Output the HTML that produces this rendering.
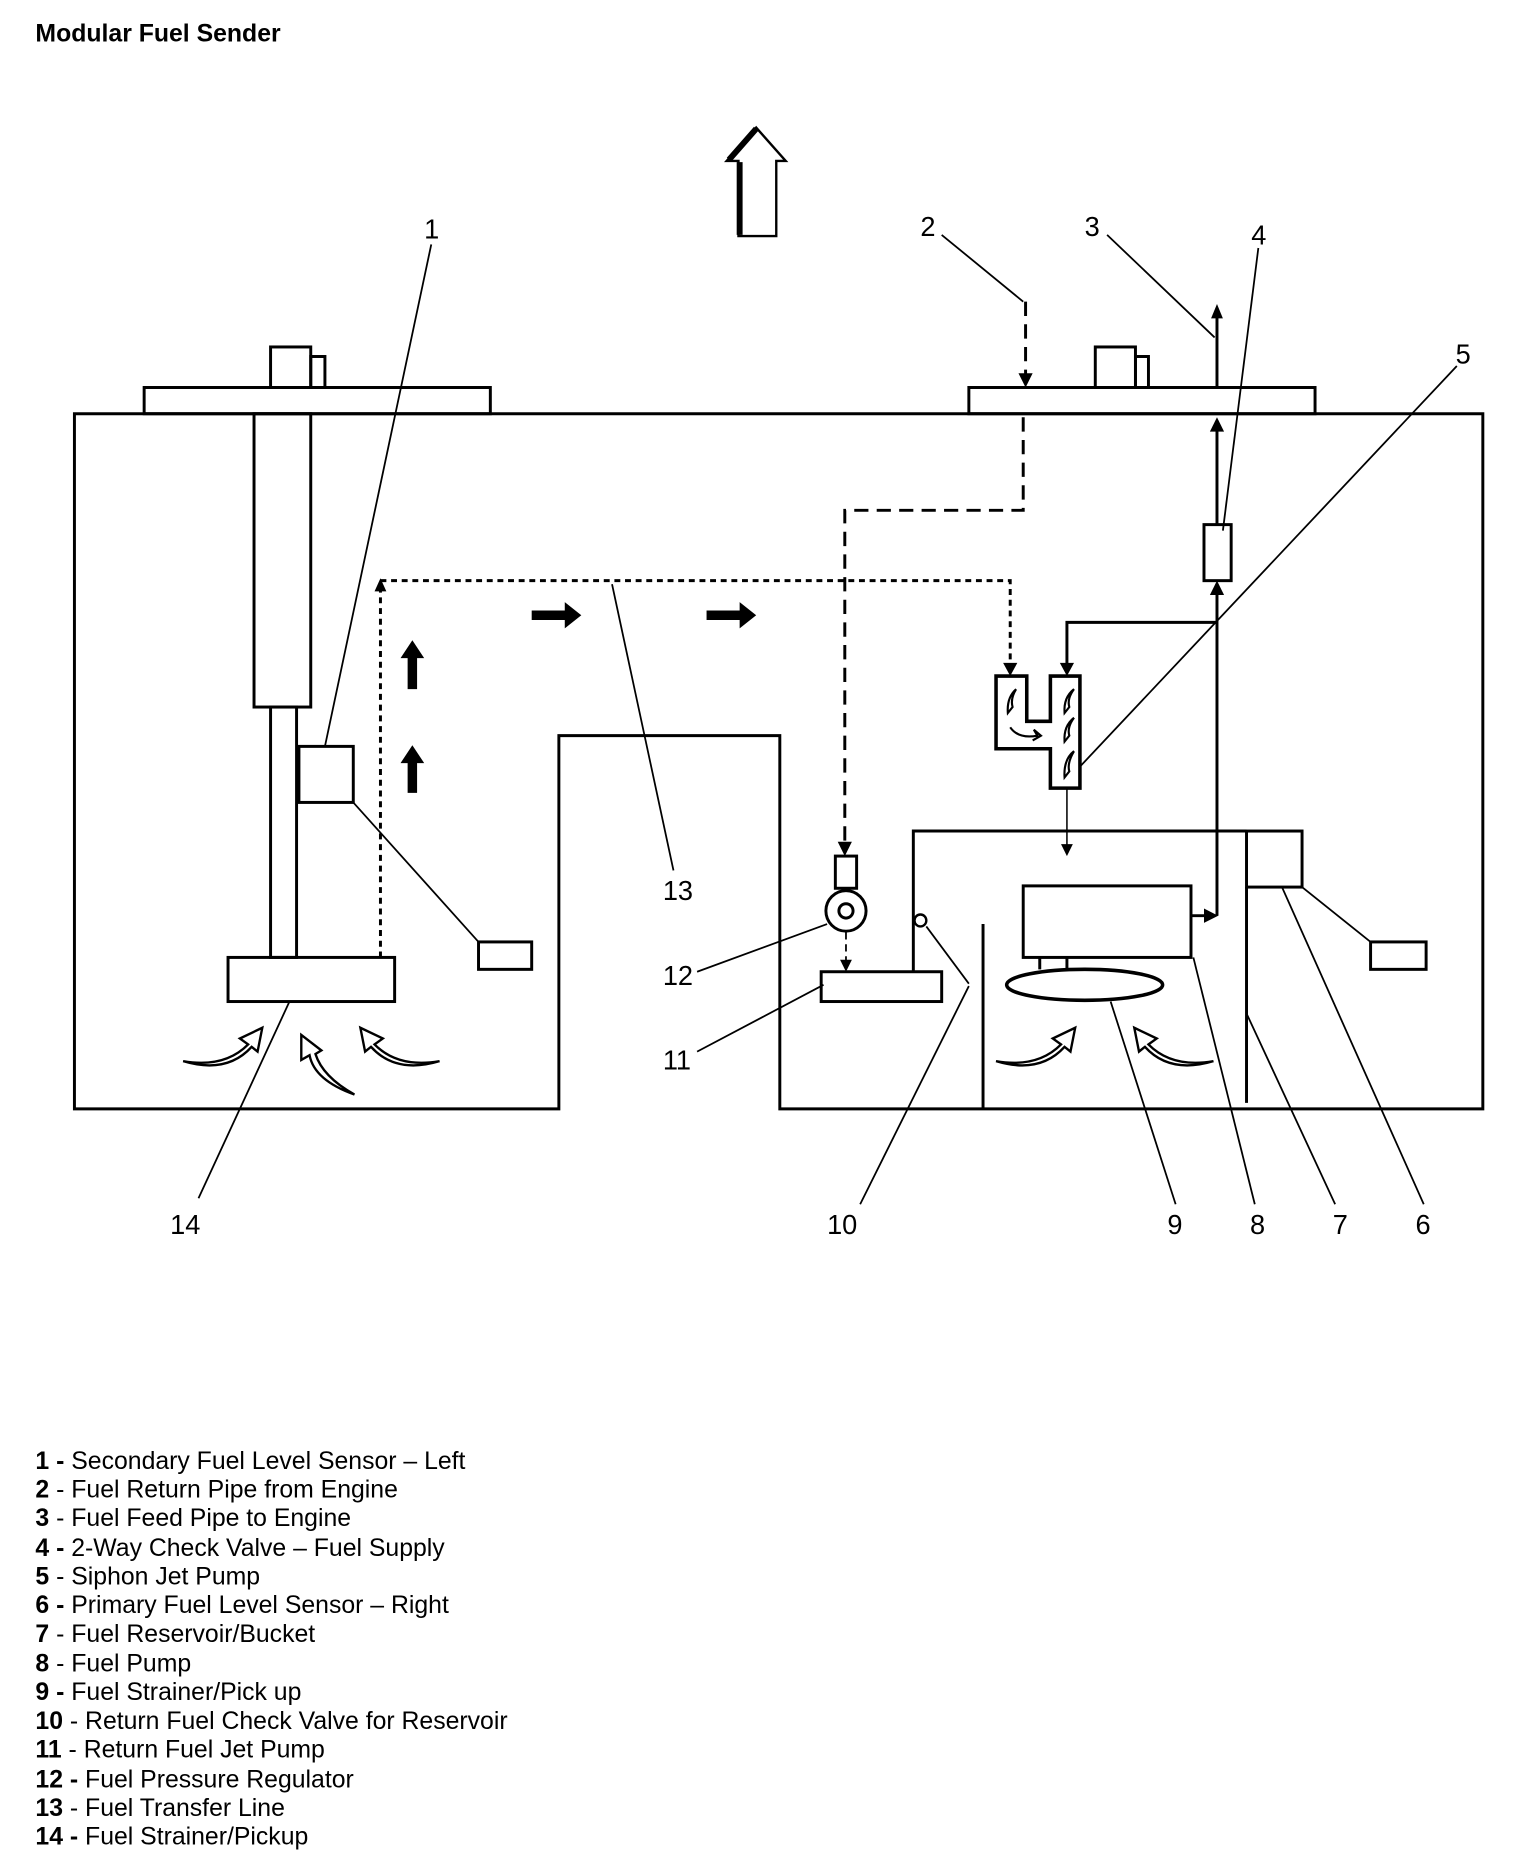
<!DOCTYPE html>
<html><head><meta charset="utf-8"><style>
html,body{margin:0;padding:0;background:#fff;}
svg{display:block;}
text{font-family:"Liberation Sans",Arial,sans-serif;fill:#000;}
</style></head><body>
<svg width="1536" height="1860" viewBox="0 0 1300 1560" preserveAspectRatio="none" xmlns="http://www.w3.org/2000/svg">
<text x="30" y="35" font-size="21" font-weight="bold">Modular Fuel Sender</text>

<!-- up arrow -->
<path d="M640,107 L665,135 L657,135 L657,198 L625,198 L625,135 L615,135 Z" fill="#fff" stroke="#000" stroke-width="2"/>
<path d="M640,108 L617,134 M626,136 L626,197" stroke="#000" stroke-width="5" fill="none"/>

<g fill="none" stroke="#000" stroke-width="2.5">
<path d="M63,347 L1255,347 L1255,930 L660,930 L660,617 L473,617 L473,930 L63,930 Z"/>
<rect x="122" y="325" width="293" height="22"/>
<rect x="229" y="291" width="34" height="34"/>
<rect x="263" y="299" width="12" height="26"/>
<rect x="820" y="325" width="293" height="22"/>
<rect x="927" y="291" width="34" height="34"/>
<rect x="961" y="299" width="11" height="26"/>
<rect x="215" y="347" width="48" height="246"/>
<rect x="229" y="593" width="22" height="210"/>
<rect x="253" y="626" width="46" height="47"/>
<rect x="193" y="803" width="141" height="37"/>
<rect x="405" y="790" width="45" height="23"/>
<rect x="707" y="718" width="18" height="27"/>
<circle cx="716" cy="764" r="17"/>
<circle cx="716" cy="764" r="6"/>
<rect x="695" y="815" width="102" height="25"/>
<path d="M773,815 L773,697 L1055,697"/>
<rect x="1055" y="697" width="47" height="47"/>
<path d="M1055,744 L1055,925"/>
<rect x="1160" y="790" width="47" height="23"/>
<path d="M832,775 L832,930"/>
<rect x="866" y="743" width="142" height="60"/>
<path d="M880,803 L880,813 M903,803 L903,813"/>
<ellipse cx="918" cy="826" rx="66" ry="13" stroke-width="3"/>
<rect x="1019" y="440" width="23" height="47"/>
<path d="M843,567 L869,567 L869,605 L889,605 L889,567 L914,567 L914,661 L889,661 L889,628 L843,628 Z" stroke-width="3"/>
</g>

<g fill="none" stroke="#000" stroke-width="1.5">
<path d="M365,205 L275,626"/>
<path d="M299,673 L405,790"/>
<path d="M518,490 L570,730"/>
<path d="M797,197 L866,253"/>
<path d="M937,197 L1028,283"/>
<path d="M1065,208 L1035,445"/>
<path d="M1233,307 L914,643"/>
<path d="M590,815 L700,775"/>
<path d="M590,882 L697,826"/>
<path d="M728,1010 L820,827"/>
<path d="M784,777 L820,825"/>
<path d="M940,840 L995,1010"/>
<path d="M1010,803 L1062,1010"/>
<path d="M1055,850 L1130,1010"/>
<path d="M1102,744 L1160,790"/>
<path d="M1085,744 L1205,1010"/>
<path d="M245,840 L168,1005"/>
<circle cx="779" cy="772" r="5" stroke-width="2"/>
</g>

<g fill="none" stroke="#000" stroke-width="2.5" stroke-dasharray="5,4">
<path d="M322,803 L322,492"/>
<path d="M322,487 L855,487 L855,562"/>
</g>
<path d="M322,485 L317,496 L327,496 Z" fill="#000"/>
<path d="M855,567 L849,556 L861,556 Z" fill="#000"/>
<g fill="none" stroke="#000" stroke-width="2.5" stroke-dasharray="12,7">
<path d="M868,253 L868,318"/>
<path d="M866,350 L866,428 L715,428 L715,710"/>
<path d="M716,782 L716,808" stroke-width="1.5" stroke-dasharray="6,4"/>
</g>
<path d="M868,325 L862,313 L874,313 Z" fill="#000"/>
<path d="M715,718 L709,706 L721,706 Z" fill="#000"/>
<path d="M716,815 L711,805 L721,805 Z" fill="#000"/>

<g fill="none" stroke="#000" stroke-width="2.5">
<path d="M1008,768 L1024,768"/>
<path d="M1030,768 L1030,497"/>
<path d="M1030,440 L1030,360"/>
<path d="M1030,325 L1030,265"/>
<path d="M1030,522 L903,522 L903,560"/>
</g>
<path d="M1031,768 L1019,762 L1019,774 Z" fill="#000"/>
<path d="M1030,487 L1024,499 L1036,499 Z" fill="#000"/>
<path d="M1030,350 L1024,362 L1036,362 Z" fill="#000"/>
<path d="M1030,255 L1025,267 L1035,267 Z" fill="#000"/>
<path d="M903,567 L897,556 L909,556 Z" fill="#000"/>
<path d="M903,661 L903,710" stroke="#000" stroke-width="1.3"/>
<path d="M903,718 L898,708 L908,708 Z" fill="#000"/>

<path d="M450,512 L478,512 L478,505 L492,516 L478,527 L478,520 L450,520 Z" fill="#000"/>
<path d="M598,512 L626,512 L626,505 L640,516 L626,527 L626,520 L598,520 Z" fill="#000"/>
<path d="M345,578 L345,552 L339,552 L349,537 L359,552 L353,552 L353,578 Z" fill="#000"/>
<path d="M345,665 L345,640 L339,640 L349,625 L359,640 L353,640 L353,665 Z" fill="#000"/>

<g fill="#fff" stroke="#000" stroke-width="2">
<path d="M155,890 Q190,896 210,876 L203,871 L222,862 L218,882 L213,878 Q192,901 155,890 Z"/>
<path d="M372,890 Q337,896 317,876 L324,871 L305,862 L309,882 L314,878 Q335,901 372,890 Z"/>
<path d="M300,918 Q266,906 262,885 L255,889 L255,868 L272,881 L267,884 Q273,903 300,918 Z"/>
<path d="M843,890 Q878,896 898,876 L891,871 L910,862 L906,882 L901,878 Q880,901 843,890 Z"/>
<path d="M1027,890 Q992,896 972,876 L979,871 L960,862 L964,882 L969,878 Q990,901 1027,890 Z"/>
</g>
<g fill="none" stroke="#000" stroke-width="1.8">
<path d="M860,578 Q852,585 853,598 L857,593 Q855,586 860,578"/>
<path d="M909,578 Q900,585 901,598 L905,593 Q903,586 909,578"/>
<path d="M909,602 Q900,609 901,622 L905,617 Q903,610 909,602"/>
<path d="M909,630 Q900,637 901,652 L905,647 Q903,640 909,630"/>
<path d="M855,610 Q862,620 878,617 L875,612 L881,617 L874,621"/>
</g>

<g font-size="23">
<text x="359" y="200">1</text>
<text x="779" y="198">2</text>
<text x="918" y="198">3</text>
<text x="1059" y="205">4</text>
<text x="1232" y="305">5</text>
<text x="561" y="755">13</text>
<text x="561" y="826">12</text>
<text x="561" y="897">11</text>
<text x="144" y="1035">14</text>
<text x="700" y="1035">10</text>
<text x="988" y="1035">9</text>
<text x="1058" y="1035">8</text>
<text x="1128" y="1035">7</text>
<text x="1198" y="1035">6</text>
</g>

<g font-size="21">
<text x="30" y="1232"><tspan font-weight="bold">1 -</tspan> Secondary Fuel Level Sensor – Left</text>
<text x="30" y="1256"><tspan font-weight="bold">2</tspan> - Fuel Return Pipe from Engine</text>
<text x="30" y="1280"><tspan font-weight="bold">3</tspan> - Fuel Feed Pipe to Engine</text>
<text x="30" y="1305"><tspan font-weight="bold">4 -</tspan> 2-Way Check Valve – Fuel Supply</text>
<text x="30" y="1329"><tspan font-weight="bold">5</tspan> - Siphon Jet Pump</text>
<text x="30" y="1353"><tspan font-weight="bold">6 -</tspan> Primary Fuel Level Sensor – Right</text>
<text x="30" y="1377"><tspan font-weight="bold">7</tspan> - Fuel Reservoir/Bucket</text>
<text x="30" y="1402"><tspan font-weight="bold">8</tspan> - Fuel Pump</text>
<text x="30" y="1426"><tspan font-weight="bold">9 -</tspan> Fuel Strainer/Pick up</text>
<text x="30" y="1450"><tspan font-weight="bold">10</tspan> - Return Fuel Check Valve for Reservoir</text>
<text x="30" y="1474"><tspan font-weight="bold">11</tspan> - Return Fuel Jet Pump</text>
<text x="30" y="1499"><tspan font-weight="bold">12 -</tspan> Fuel Pressure Regulator</text>
<text x="30" y="1523"><tspan font-weight="bold">13</tspan> - Fuel Transfer Line</text>
<text x="30" y="1547"><tspan font-weight="bold">14 -</tspan> Fuel Strainer/Pickup</text>
</g>
</svg>
</body></html>
